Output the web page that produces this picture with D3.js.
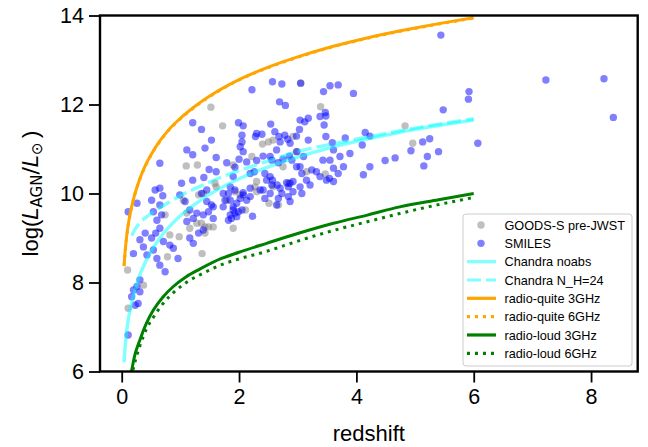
<!DOCTYPE html>
<html><head><meta charset="utf-8">
<script src="https://cdn.jsdelivr.net/npm/d3@7"></script>
<style>
html,body{margin:0;padding:0;background:#fff;}
text{font-family:"Liberation Sans",Arial,sans-serif;fill:#000;}
</style></head>
<body>
<svg id="chart" width="648" height="447"></svg>
<script>
// ---------------- data ----------------
const xTicks = [0, 2, 4, 6, 8];
const yTicks = [6, 8, 10, 12, 14];
const xLabel = "redshift";

// GOODS-S pre-JWST (grey points): [redshift, log L]
const goodsPoints = [
[3.05,12.48],[1.52,11.94],[1.72,11.52],[1.10,10.62],[1.29,10.64],[2.40,11.11],[2.50,11.16],[2.58,11.20],
[3.39,11.95],[3.47,10.44],[3.15,10.49],[1.90,10.64],[2.22,10.83],[2.92,11.28],[2.99,10.94],[2.75,10.60],
[2.30,10.27],[2.58,10.15],[0.10,8.28],[0.11,7.42],[0.37,7.94],[0.74,9.52],[0.82,9.07],[0.78,8.58],
[0.98,9.03],[1.11,9.56],[1.28,9.33],[1.16,9.22],[1.31,9.97],[1.39,10.0],[1.42,9.25],[1.48,9.25],
[1.56,9.25],[1.37,8.65],[1.61,10.15],[1.79,9.85],[1.93,10.04],[2.02,9.97],[2.11,9.63],[2.30,10.04],
[2.51,9.78],[2.67,9.74],[2.84,10.23],[1.90,9.22],[1.59,10.23],[1.36,9.33],[1.42,9.11],[2.27,10.15],
[4.83,11.52],[4.96,11.13],[1.05,9.85]
];

// SMILES (blue points): [redshift, log L]
const smilesPoints = [
[2.22,12.33],[2.57,12.51],[2.73,12.46],[3.05,12.48],[3.44,12.29],[3.55,12.42],[3.69,12.44],[3.95,12.25],
[2.69,12.06],[2.79,11.98],[1.21,11.59],[1.36,11.44],[1.53,11.20],[0.65,10.68],[1.11,10.98],[1.21,10.87],
[1.42,11.02],[1.61,10.81],[1.40,10.36],[1.61,10.49],[1.49,10.54],[1.21,10.30],[1.02,10.23],[0.57,10.08],
[0.65,10.12],[0.70,9.95],[1.99,11.59],[2.07,11.52],[2.05,11.31],[2.05,11.16],[2.02,11.05],[2.07,10.94],
[2.30,11.35],[2.39,11.33],[2.28,11.28],[2.54,11.56],[2.61,11.39],[2.68,11.28],[2.78,11.31],[2.83,11.22],
[2.87,11.13],[3.03,11.44],[3.04,11.65],[3.12,11.61],[3.18,11.69],[3.38,11.73],[3.47,11.82],[3.45,11.54],
[3.48,11.28],[3.59,11.14],[3.61,10.98],[3.81,11.25],[3.18,11.20],[2.98,11.29],[2.98,10.94],[3.10,10.83],
[2.86,10.84],[2.75,10.77],[2.67,10.69],[2.53,10.83],[2.41,10.84],[2.30,10.74],[2.13,10.71],[2.00,10.77],
[2.26,10.49],[2.44,10.45],[2.57,10.30],[2.65,10.19],[2.70,10.12],[2.81,10.24],[2.92,10.27],[3.07,10.45],
[3.24,10.53],[3.32,10.49],[3.55,10.75],[3.72,10.83],[3.89,10.90],[4.12,10.42],[4.23,10.60],[3.69,10.45],
[3.78,10.60],[3.54,10.34],[3.38,10.38],[1.73,10.0],[1.85,10.15],[1.93,10.08],[2.07,10.02],[2.84,9.93],
[2.73,10.0],[2.92,10.04],[3.07,10.0],
[5.48,11.88],[5.92,12.29],[5.91,12.12],[6.07,11.13],[5.13,11.16],[5.25,11.23],[5.40,10.94],[5.21,10.83],
[5.15,10.62],[4.93,10.96],[4.66,10.80],[4.49,10.74],[4.15,11.37],[4.23,11.29],[4.10,11.09],[3.48,11.74],
[3.43,10.75],[3.61,10.57],[3.49,10.30],[3.61,10.27],[2.70,11.16],[2.64,10.98],[1.93,10.59],[1.79,10.69],
[2.19,10.12],[2.36,10.08],[2.84,10.15],[3.04,10.15],[3.15,10.30],[3.04,10.60],[2.98,10.60],[2.90,10.75],
[2.56,10.75],[2.53,10.38],[2.47,10.30],[2.19,10.45],[1.90,10.38],
[5.44,13.56],[7.23,12.55],[8.22,12.58],[8.38,11.71],
[0.51,9.85],[0.54,9.59],[0.65,9.74],[0.68,9.52],[0.60,9.40],[0.65,9.22],[0.58,9.11],[0.51,9.0],
[0.40,9.11],[0.31,8.96],[0.37,8.80],[0.43,8.62],[0.54,8.73],[0.60,8.54],[0.65,8.39],[0.74,8.24],
[0.71,8.92],[0.82,8.84],[0.88,8.77],[0.96,8.54],[0.26,9.78],[0.11,9.59],[0.20,8.65],[0.26,7.91],
[0.20,7.83],[0.17,7.68],[0.31,7.79],[0.28,7.53],[0.23,7.49],[0.31,8.06],[0.11,6.82],[0.99,9.97],
[1.08,9.82],[1.16,9.63],[1.28,9.56],[1.22,9.44],[1.11,9.37],[1.16,9.0],[1.31,9.11],[1.22,8.88],
[1.39,9.52],[1.45,9.82],[1.53,9.74],[1.48,9.59],[1.56,9.44],[1.39,9.18],[1.85,9.85],[1.96,9.78],
[1.90,9.63],[1.99,9.59],[1.85,9.52],[1.87,9.44],[1.96,9.48],[2.05,9.63],[2.13,9.85],[2.07,9.97],
[2.23,9.49],[2.41,10.08],[2.53,10.0],[2.87,9.82],[3.21,10.19],[1.36,10.0],[1.45,10.08],[1.56,9.70],
[1.73,9.70],[1.76,9.85],[1.82,10.0],[1.90,9.70],[2.02,9.89],[1.93,9.56],[1.82,9.40],[2.19,9.93],
[2.44,9.89],[2.56,10.19],[2.67,9.89],[2.64,9.74],[2.87,10.23]
];

// Detection-limit curves
const chandraNoabsZ = [0.04,0.06,0.08,0.1,0.13,0.17,0.22,0.3,0.4,0.5,0.65,0.8,1.0,1.25,1.5,2.0,2.5,3.0,3.5,4.0,4.5,5.0,5.5,6.0];
const chandraNoabsL = [6.21,6.58,6.85,7.06,7.30,7.54,7.80,8.14,8.45,8.70,9.00,9.24,9.50,9.76,9.98,10.33,10.60,10.82,11.01,11.17,11.31,11.44,11.55,11.65];
const chandraNH24Z = [0.17,0.22,0.3,0.45,0.7,1.0,1.4,1.8,2.2,3.0,4.0,5.0,6.0];
const chandraNH24L = [9.05,9.18,9.33,9.5,9.72,9.95,10.2,10.42,10.6,10.94,11.22,11.47,11.68];
const rq3Z = [0.04,0.06,0.08,0.1,0.13,0.17,0.22,0.3,0.4,0.5,0.65,0.8,1.0,1.25,1.5,2.0,2.5,3.0,3.5,4.0,4.5,5.0,5.5,6.0];
const rq3L = [8.38,8.72,8.99,9.20,9.45,9.70,9.97,10.30,10.62,10.87,11.18,11.43,11.69,11.96,12.19,12.56,12.84,13.07,13.27,13.44,13.59,13.72,13.84,13.95];
const rq6Z = [0.04,0.06,0.08,0.1,0.13,0.17,0.22,0.3,0.4,0.5,0.65,0.8,1.0,1.25,1.5,2.0,2.5,3.0,3.5,4.0,4.5,5.0,5.5,6.0];
const rq6L = [8.37,8.71,8.98,9.19,9.44,9.69,9.96,10.29,10.61,10.86,11.17,11.42,11.68,11.95,12.18,12.55,12.83,13.06,13.26,13.43,13.58,13.71,13.83,13.94];
const rl3Z = [0.1,0.14,0.17,0.22,0.31,0.42,0.54,0.7,0.88,1.1,1.33,1.7,2.0,2.47,3.0,3.61,4.2,4.74,5.4,6.0];
const rl3L = [5.55,5.85,6.03,6.35,6.71,7.08,7.38,7.67,7.91,8.13,8.30,8.54,8.68,8.88,9.10,9.33,9.52,9.70,9.86,10.0];
const rl6Z = [0.12,0.16,0.2,0.25,0.31,0.42,0.54,0.7,0.88,1.1,1.39,1.7,2.0,2.47,3.0,3.61,4.2,4.74,5.4,6.0];
const rl6L = [5.5,5.85,6.08,6.33,6.58,6.95,7.22,7.52,7.77,8.0,8.21,8.40,8.53,8.70,8.93,9.17,9.37,9.55,9.75,9.91];

const legendLabels = ["GOODS-S pre-JWST","SMILES","Chandra noabs","Chandra N_H=24","radio-quite 3GHz","radio-quite 6GHz","radio-loud 3GHz","radio-loud 6GHz"];

// ---------------- layout ----------------
const svg = d3.select("#chart");
const L = 100, R = 637.7, T = 15.5, B = 371.5;
const x = d3.scaleLinear().domain([-0.37, 8.795]).range([L, R]);
const y = d3.scaleLinear().domain([6, 14]).range([B, T]);

svg.append("defs").append("clipPath").attr("id","clip")
  .append("rect").attr("x",L).attr("y",T).attr("width",R-L).attr("height",B-T);

const plot = svg.append("g").attr("clip-path","url(#clip)");

// scatter
plot.append("g").selectAll("circle").data(goodsPoints).join("circle")
  .attr("cx",d=>x(d[0])).attr("cy",d=>y(d[1])).attr("r",3.7)
  .attr("fill","grey").attr("fill-opacity",0.5);
plot.append("g").selectAll("circle").data(smilesPoints).join("circle")
  .attr("cx",d=>x(d[0])).attr("cy",d=>y(d[1])).attr("r",3.7)
  .attr("fill","blue").attr("fill-opacity",0.5);

const line = d3.line().x(d=>x(d[0])).y(d=>y(d[1])).curve(d3.curveMonotoneX);
const zip = (a,b)=>a.map((v,i)=>[v,b[i]]);
const curves = [
  {z:chandraNoabsZ, l:chandraNoabsL, color:"cyan", op:0.5, dash:null, w:3.4},
  {z:chandraNH24Z, l:chandraNH24L, color:"cyan", op:0.5, dash:"14,5", w:3.4},
  {z:rq3Z, l:rq3L, color:"orange", op:1, dash:null, w:3},
  {z:rq6Z, l:rq6L, color:"orange", op:1, dash:"3,5", w:3},
  {z:rl3Z, l:rl3L, color:"green", op:1, dash:null, w:3},
  {z:rl6Z, l:rl6L, color:"green", op:1, dash:"3,5", w:3}
];
curves.forEach(c=>{
  plot.append("path").datum(zip(c.z,c.l)).attr("d",line)
    .attr("fill","none").attr("stroke",c.color).attr("stroke-opacity",c.op)
    .attr("stroke-width",c.w).attr("stroke-dasharray",c.dash);
});

// axes
const xAxis = svg.append("g").attr("transform",`translate(0,${B})`)
  .call(d3.axisBottom(x).tickValues(xTicks).tickSize(11).tickPadding(6).tickFormat(d3.format("d")));
const yAxis = svg.append("g").attr("transform",`translate(${L},0)`)
  .call(d3.axisLeft(y).tickValues(yTicks).tickSize(11).tickPadding(5).tickFormat(d3.format("d")));
[xAxis,yAxis].forEach(a=>{
  a.select(".domain").remove();
  a.selectAll(".tick line").attr("stroke","#000").attr("stroke-width",1.8);
  a.selectAll(".tick text").attr("font-size","21.5px").attr("font-family","Liberation Sans, Arial, sans-serif").attr("fill","#000");
});
xAxis.selectAll(".tick text").attr("dy","0.71em");

// frame
svg.append("rect").attr("x",L).attr("y",T).attr("width",R-L).attr("height",B-T)
  .attr("fill","none").attr("stroke","#000").attr("stroke-width",2.4);

// axis labels
svg.append("text").attr("x",(L+R)/2).attr("y",441).attr("text-anchor","middle")
  .attr("font-size","22px").text(xLabel);

const yl = svg.append("text").attr("transform",`translate(38,${(T+B)/2}) rotate(-90)`)
  .attr("text-anchor","middle").attr("font-size","22px");
yl.append("tspan").text("log(");
yl.append("tspan").attr("font-style","italic").attr("font-family","DejaVu Sans").text("L");
yl.append("tspan").attr("font-size","15px").attr("font-family","DejaVu Sans").attr("dy",4).text("AGN");
yl.append("tspan").attr("dy",-4).attr("font-family","DejaVu Sans").text("/");
yl.append("tspan").attr("font-style","italic").attr("font-family","DejaVu Sans").text("L");
yl.append("tspan").attr("font-size","15px").attr("font-family","DejaVu Sans").attr("dy",4).text("\u2299");
yl.append("tspan").attr("dy",-4).text("\u2009)");

// legend
const lg = svg.append("g");
lg.append("rect").attr("x",463).attr("y",214).attr("width",169).attr("height",152).attr("rx",3)
  .attr("fill","#fff").attr("fill-opacity",0.8).attr("stroke","#cccccc").attr("stroke-width",1);
const rowY = i => 225 + i*18.33;
const legendItems = [
  {type:"dot", color:"grey"},
  {type:"dot", color:"blue"},
  {type:"line", color:"cyan", op:0.5, dash:null},
  {type:"line", color:"cyan", op:0.5, dash:"14,5"},
  {type:"line", color:"orange", op:1, dash:null},
  {type:"line", color:"orange", op:1, dash:"3,5"},
  {type:"line", color:"green", op:1, dash:null},
  {type:"line", color:"green", op:1, dash:"3,5"}
];
legendItems.forEach((it,i)=>{
  const yy = rowY(i);
  if(it.type==="dot"){
    lg.append("circle").attr("cx",481).attr("cy",yy).attr("r",3.7).attr("fill",it.color).attr("fill-opacity",0.5);
  } else {
    lg.append("line").attr("x1",467).attr("x2",496).attr("y1",yy).attr("y2",yy)
      .attr("stroke",it.color).attr("stroke-opacity",it.op).attr("stroke-width",3.2).attr("stroke-dasharray",it.dash);
  }
  lg.append("text").attr("x",504.5).attr("y",yy).attr("dy","0.36em").attr("font-size","12.7px").text(legendLabels[i]);
});
</script>
</body></html>
